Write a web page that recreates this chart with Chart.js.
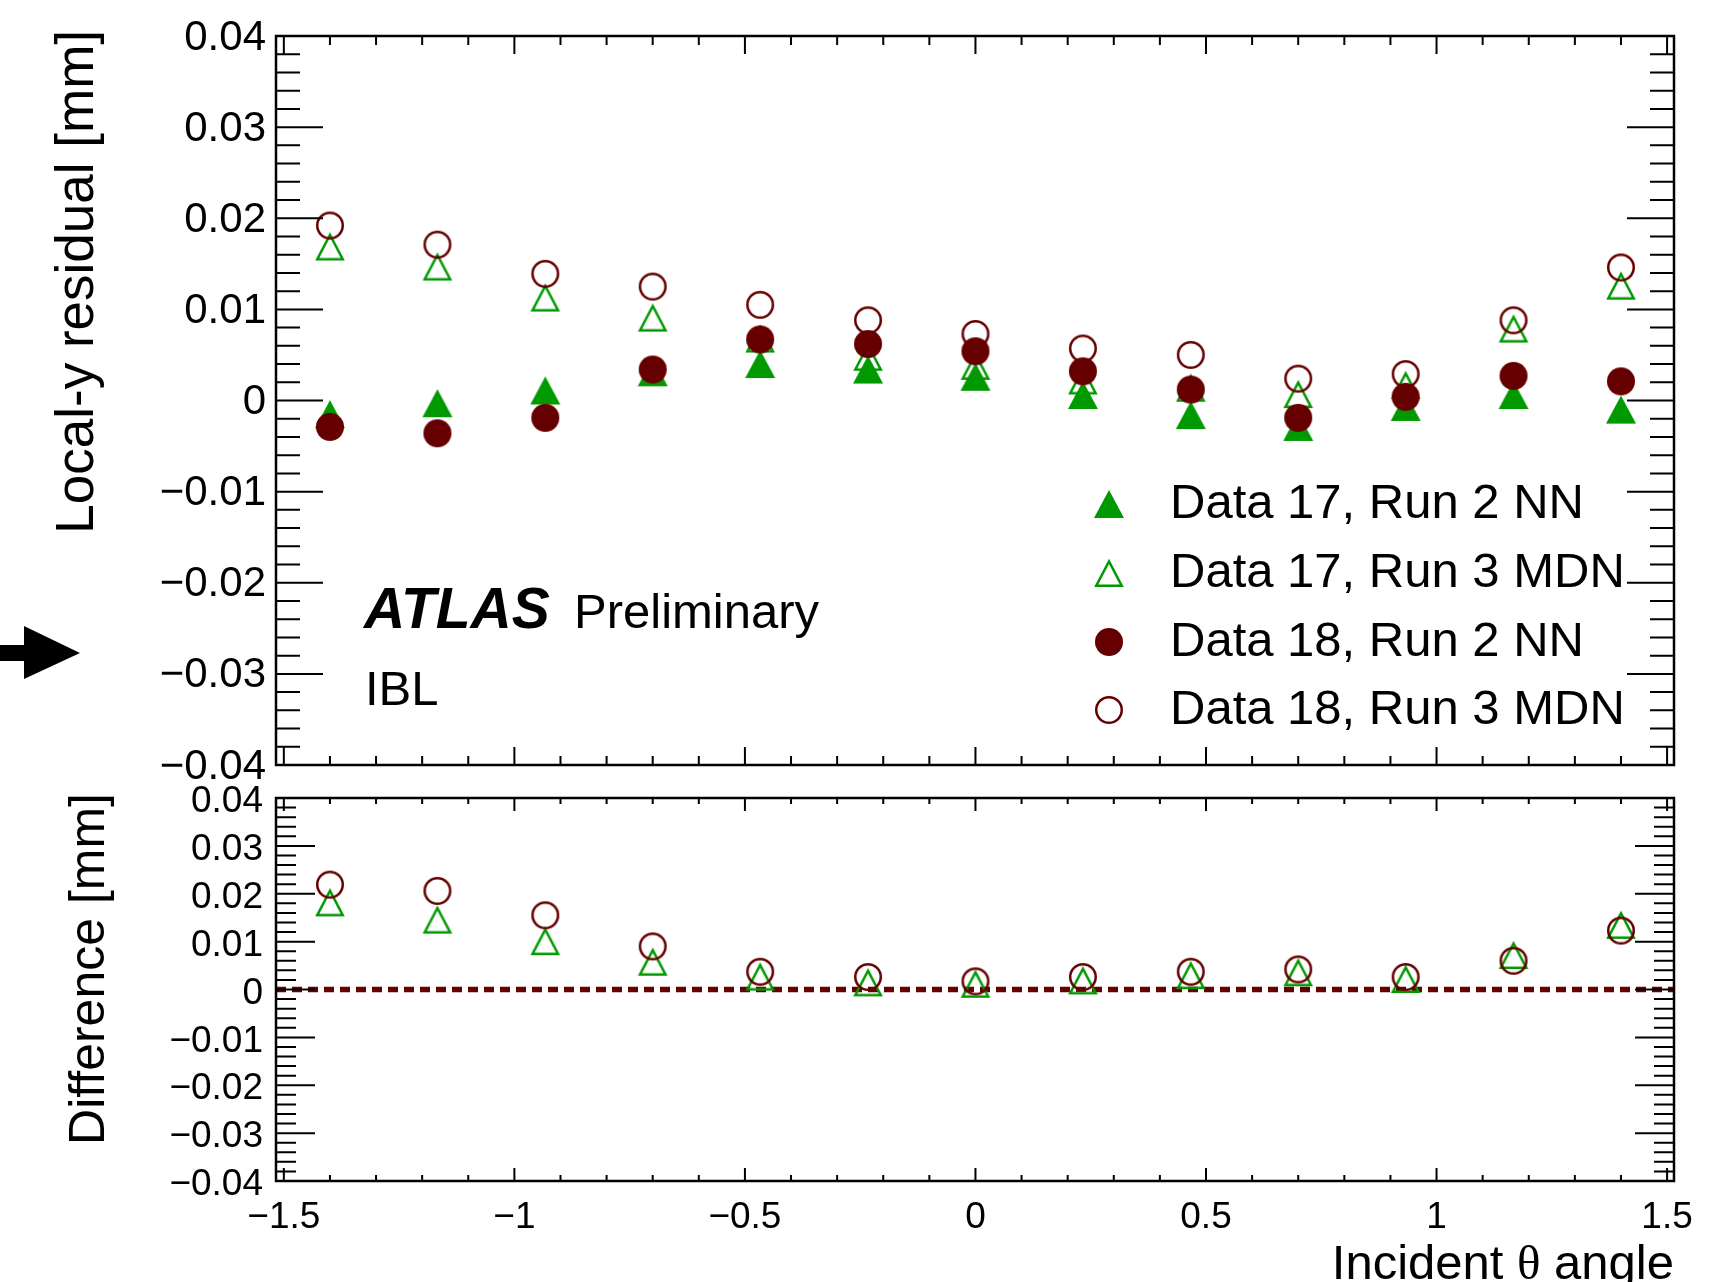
<!DOCTYPE html>
<html>
<head>
<meta charset="utf-8">
<title>IBL local-y residual</title>
<script src="https://cdn.jsdelivr.net/npm/chart.js@4.4.0/dist/chart.umd.min.js"></script>
<style>
  html, body { margin: 0; padding: 0; background: #fff; }
  #page { position: relative; width: 1733px; height: 1282px; overflow: hidden; background: #fff; }
  #page canvas { position: absolute; left: 0; }
  #top { top: 0; }
  #bottom { top: 760px; }
</style>
</head>
<body>
<div id="page">
  <canvas id="top" width="1733" height="805"></canvas>
  <canvas id="bottom" width="1733" height="522"></canvas>
</div>
<script>
// bin centres in incident theta
const angles = [-1.4, -1.167, -0.933, -0.7, -0.467, -0.233, 0, 0.233, 0.467, 0.7, 0.933, 1.167, 1.4];

// mean local-y residual [mm]
const d17Run2NN  = [-0.0015, -0.0003, 0.0011, 0.0031, 0.0040, 0.0034, 0.0026, 0.0006, -0.0016, -0.0029, -0.0007, 0.0006, -0.0010];
const d17Run3MDN = [0.0169, 0.0147, 0.0113, 0.0091, 0.0068, 0.0048, 0.0038, 0.0022, 0.0014, 0.0007, 0.0017, 0.0079, 0.0126];
const d18Run2NN  = [-0.0029, -0.0036, -0.0019, 0.0034, 0.0067, 0.0062, 0.0054, 0.0032, 0.0012, -0.0019, 0.0004, 0.0027, 0.0021];
const d18Run3MDN = [0.0192, 0.0171, 0.0139, 0.0125, 0.0105, 0.0088, 0.0073, 0.0057, 0.0050, 0.0024, 0.0029, 0.0088, 0.0146];

// Run 3 MDN minus Run 2 NN [mm]
const d17Diff = [0.0182, 0.0146, 0.0101, 0.0058, 0.0027, 0.0015, 0.0012, 0.0019, 0.0030, 0.0036, 0.0022, 0.0072, 0.0135];
const d18Diff = [0.0219, 0.0206, 0.0155, 0.0090, 0.0037, 0.0026, 0.0017, 0.0026, 0.0037, 0.0042, 0.0026, 0.0060, 0.0123];

const seriesNames = ['Data 17, Run 2 NN', 'Data 17, Run 3 MDN', 'Data 18, Run 2 NN', 'Data 18, Run 3 MDN'];

const xTickValues = [-1.5, -1, -0.5, 0, 0.5, 1, 1.5];
const yTickValues = [-0.04, -0.03, -0.02, -0.01, 0, 0.01, 0.02, 0.03, 0.04];
const X_MIN = -1.517, X_MAX = 1.515;
const Y_MIN = -0.04, Y_MAX = 0.04;

const FONT = '"Liberation Sans", Arial, Helvetica, sans-serif';
const SERIF = '"Liberation Serif", "Times New Roman", serif';
const GREEN = '#009900';
const MAROON = '#660000';

function fmt(v){
	if(Math.abs(v) < 1e-9)
		return '0';
	return String(parseFloat(v.toFixed(3))).replace('-', '\u2212');
}

function points(values){
	return angles.map((x, i) => ({ x: x, y: values[i] }));
}

// ROOT-like markers drawn once and handed to Chart.js as point styles
function marker(kind, color){
	let c = document.createElement('canvas');
	let g;
	let lw = 2.5;
	if(kind === 'triangle' || kind === 'triangleOpen'){
		let w = 30, h = 28;
		c.width = w + 2;
		c.height = h + 2;
		g = c.getContext('2d');
		g.beginPath();
		if(kind === 'triangle'){
			g.moveTo(1, h + 1);
			g.lineTo(w + 1, h + 1);
			g.lineTo(w / 2 + 1, 1);
			g.closePath();
			g.fillStyle = color;
			g.fill();
		} else {
			g.moveTo(1 + lw * 0.9, h + 1 - lw / 2);
			g.lineTo(w + 1 - lw * 0.9, h + 1 - lw / 2);
			g.lineTo(w / 2 + 1, 1 + lw);
			g.closePath();
			g.strokeStyle = color;
			g.lineWidth = lw;
			g.stroke();
		}
	} else {
		let d = 28;
		c.width = d + 2;
		c.height = d + 2;
		g = c.getContext('2d');
		g.beginPath();
		if(kind === 'circle'){
			g.arc(d / 2 + 1, d / 2 + 1, d / 2, 0, Math.PI * 2);
			g.fillStyle = color;
			g.fill();
		} else {
			g.arc(d / 2 + 1, d / 2 + 1, d / 2 - lw / 2, 0, Math.PI * 2);
			g.strokeStyle = color;
			g.lineWidth = lw;
			g.stroke();
		}
	}
	return c;
}

const markers = [
	marker('triangle', GREEN),
	marker('triangleOpen', GREEN),
	marker('circle', MAROON),
	marker('circleOpen', MAROON)
];

function series(values, idx){
	return {
		data: points(values),
		pointStyle: markers[idx],
		pointRadius: 14,
		pointHoverRadius: 14,
		borderColor: idx < 2 ? GREEN : MAROON,
		backgroundColor: idx < 2 ? GREEN : MAROON,
		showLine: false
	};
}

function minorValues(majors, n){
	let out = [];
	for(let i = 0; i < majors.length - 1; i++){
		let step = (majors[i + 1] - majors[i]) / n;
		for(let k = 1; k < n; k++)
			out.push(majors[i] + k * step);
	}
	return out;
}

function xScale(showLabels, height){
	return {
		type: 'linear',
		min: X_MIN,
		max: X_MAX,
		grid: { display: false, drawTicks: false },
		border: { display: false },
		afterBuildTicks: s => { s.ticks = xTickValues.map(v => ({ value: v })); },
		afterFit: s => { s.height = height; },
		ticks: {
			display: showLabels,
			autoSkip: false,
			maxRotation: 0,
			padding: 15,
			color: '#000',
			font: { family: FONT, size: 37 },
			callback: v => fmt(v)
		}
	};
}

function yScale(fontSize, pad, shift){
	return {
		type: 'linear',
		min: Y_MIN,
		max: Y_MAX,
		grid: { display: false, drawTicks: false },
		border: { display: false },
		afterBuildTicks: s => { s.ticks = yTickValues.map(v => ({ value: v })); },
		afterFit: s => { s.width = 276; },
		ticks: {
			autoSkip: false,
			padding: pad,
			labelOffset: shift,
			color: '#000',
			font: { family: FONT, size: fontSize },
			callback: v => fmt(v)
		}
	};
}

// frame box with inward major/minor ticks on all four sides
const frameTicks = {
	id: 'frameTicks',
	afterDraw(chart, args, opts){
		let ctx = chart.ctx;
		let a = chart.chartArea;
		let x = chart.scales.x, y = chart.scales.y;
		ctx.save();
		ctx.strokeStyle = '#000';
		ctx.lineWidth = 2;
		ctx.beginPath();
		let tickX = (v, len) => {
			let px = x.getPixelForValue(v);
			if(px < a.left || px > a.right) return;
			ctx.moveTo(px, a.bottom); ctx.lineTo(px, a.bottom - len);
			ctx.moveTo(px, a.top); ctx.lineTo(px, a.top + len);
		};
		let tickY = (v, len) => {
			let py = y.getPixelForValue(v);
			ctx.moveTo(a.left, py); ctx.lineTo(a.left + len, py);
			ctx.moveTo(a.right, py); ctx.lineTo(a.right - len, py);
		};
		xTickValues.forEach(v => tickX(v, opts.xMajor));
		minorValues(xTickValues, 5).forEach(v => tickX(v, opts.xMinor));
		yTickValues.forEach(v => tickY(v, opts.yMajor));
		minorValues(yTickValues, 5).forEach(v => tickY(v, opts.yMinor));
		ctx.stroke();
		ctx.lineWidth = 2.5;
		ctx.strokeRect(a.left, a.top, a.right - a.left, a.bottom - a.top);
		ctx.restore();
	}
};

function rotatedTitle(ctx, text, x, yEnd, size){
	ctx.save();
	ctx.translate(x, yEnd);
	ctx.rotate(-Math.PI / 2);
	ctx.font = size + 'px ' + FONT;
	ctx.textAlign = 'right';
	ctx.textBaseline = 'middle';
	ctx.fillStyle = '#000';
	ctx.fillText(text, 0, 0);
	ctx.restore();
}

const topText = {
	id: 'topText',
	afterDraw(chart){
		let ctx = chart.ctx;
		rotatedTitle(ctx, 'Local-y residual [mm]', 78, 30, 53);

		ctx.save();
		ctx.fillStyle = '#000';
		ctx.textBaseline = 'alphabetic';
		ctx.textAlign = 'left';
		ctx.font = 'italic bold 57px ' + FONT;
		ctx.fillText('ATLAS', 364, 628);
		ctx.font = '49px ' + FONT;
		ctx.fillText('Preliminary', 574, 628);
		ctx.fillText('IBL', 365, 705);

		// legend
		let rows = [504, 573, 642, 710];
		ctx.font = '49px ' + FONT;
		ctx.textBaseline = 'middle';
		seriesNames.forEach((name, i) => {
			let m = markers[i];
			ctx.drawImage(m, 1109 - m.width / 2, rows[i] - m.height / 2);
			ctx.fillText(name, 1170, rows[i]);
		});

		// arrow at the left edge
		ctx.beginPath();
		ctx.rect(0, 645, 27, 16);
		ctx.moveTo(24, 626);
		ctx.lineTo(80, 653);
		ctx.lineTo(24, 679);
		ctx.closePath();
		ctx.fill();
		ctx.restore();
	}
};

const bottomText = {
	id: 'bottomText',
	afterDraw(chart){
		let ctx = chart.ctx;
		rotatedTitle(ctx, 'Difference [mm]', 90, 33, 50);

		// axis title, theta set in the serif face
		let parts = [['Incident ', FONT], ['\u03B8', SERIF], [' angle', FONT]];
		let size = 49;
		let baseY = 1279 - 760;
		ctx.save();
		ctx.fillStyle = '#000';
		ctx.textAlign = 'left';
		ctx.textBaseline = 'alphabetic';
		let widths = parts.map(p => { ctx.font = size + 'px ' + p[1]; return ctx.measureText(p[0]).width; });
		let xPos = 1674 - widths.reduce((s, w) => s + w, 0);
		parts.forEach((p, i) => {
			ctx.font = size + 'px ' + p[1];
			ctx.fillText(p[0], xPos, baseY);
			xPos += widths[i];
		});
		ctx.restore();
	}
};

const common = {
	responsive: false,
	animation: false,
	devicePixelRatio: 1,
	events: []
};

new Chart(document.getElementById('top'), {
	type: 'scatter',
	data: {
		datasets: [
			series(d18Run2NN, 2),
			series(d18Run3MDN, 3),
			series(d17Run3MDN, 1),
			series(d17Run2NN, 0)
		]
	},
	options: Object.assign({}, common, {
		layout: { padding: { left: 0, right: 59, top: 36, bottom: 0 } },
		scales: {
			x: xScale(false, 40),
			y: yScale(42, 10, 2)
		},
		plugins: {
			legend: { display: false },
			tooltip: { enabled: false },
			frameTicks: { xMajor: 18, xMinor: 9, yMajor: 47, yMinor: 24 }
		}
	}),
	plugins: [frameTicks, topText]
});

new Chart(document.getElementById('bottom'), {
	type: 'scatter',
	data: {
		datasets: [
			series(d18Diff, 3),
			series(d17Diff, 1),
			{
				// zero reference
				data: [{ x: X_MIN, y: 0 }, { x: X_MAX, y: 0 }],
				showLine: true,
				borderColor: MAROON,
				borderWidth: 5.5,
				borderDash: [10, 6],
				pointRadius: 0,
				fill: false
			}
		]
	},
	options: Object.assign({}, common, {
		layout: { padding: { left: 0, right: 59, top: 38, bottom: 0 } },
		scales: {
			x: xScale(true, 101),
			y: yScale(37, 13, 4)
		},
		plugins: {
			legend: { display: false },
			tooltip: { enabled: false },
			frameTicks: { xMajor: 13, xMinor: 6, yMajor: 39, yMinor: 20 }
		}
	}),
	plugins: [frameTicks, bottomText]
});
</script>
</body>
</html>
